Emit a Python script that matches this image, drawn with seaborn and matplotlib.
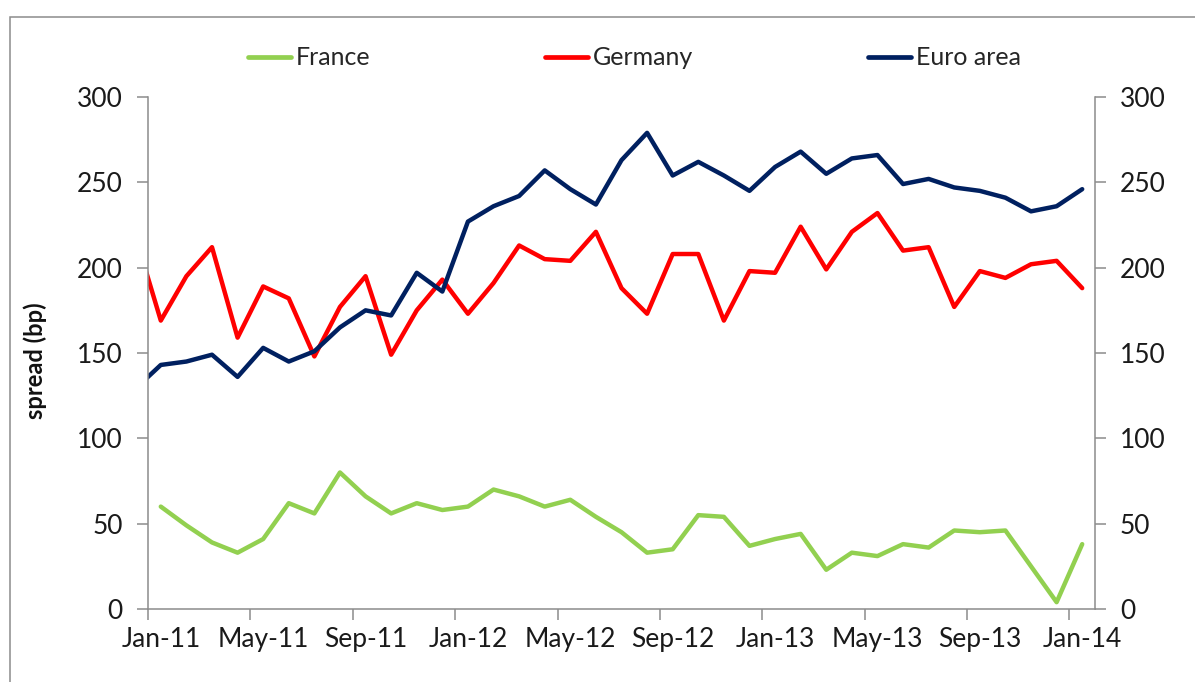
import matplotlib.pyplot as plt
import matplotlib.patches as mpatches
from matplotlib.ticker import FixedLocator
import seaborn as sns
import pandas as pd
import numpy as np

# monthly spreads (bp), Dec-10 .. Jan-14; France series starts Jan-11
months = ['Dec-10',
          'Jan-11', 'Feb-11', 'Mar-11', 'Apr-11', 'May-11', 'Jun-11',
          'Jul-11', 'Aug-11', 'Sep-11', 'Oct-11', 'Nov-11', 'Dec-11',
          'Jan-12', 'Feb-12', 'Mar-12', 'Apr-12', 'May-12', 'Jun-12',
          'Jul-12', 'Aug-12', 'Sep-12', 'Oct-12', 'Nov-12', 'Dec-12',
          'Jan-13', 'Feb-13', 'Mar-13', 'Apr-13', 'May-13', 'Jun-13',
          'Jul-13', 'Aug-13', 'Sep-13', 'Oct-13', 'Nov-13', 'Dec-13',
          'Jan-14']
france = [60, 49, 39, 33, 41, 62, 56, 80, 66, 56, 62, 58,
          60, 70, 66, 60, 64, 54, 45, 33, 35, 55, 54, 37,
          41, 44, 23, 33, 31, 38, 36, 46, 45, 46, 25, 4,
          38]
germany = [219,
           169, 195, 212, 159, 189, 182, 148, 177, 195, 149, 175, 193,
           173, 191, 213, 205, 204, 221, 188, 173, 208, 208, 169, 198,
           197, 224, 199, 221, 232, 210, 212, 177, 198, 194, 202, 204,
           188]
euro_area = [129,
             143, 145, 149, 136, 153, 145, 151, 165, 175, 172, 197, 186,
             227, 236, 242, 257, 246, 237, 263, 279, 254, 262, 254, 245,
             259, 268, 255, 264, 266, 249, 252, 247, 245, 241, 233, 236,
             246]
series_names = ['France', 'Germany', 'Euro area']
colors = ['#92D050', '#FF0000', '#002060']

sns.set_style('white')
plt.rcParams['font.family'] = ['Lato', 'DejaVu Sans']

frames = []
for name, vals in zip(series_names, [france, germany, euro_area]):
    offset = len(months) - len(vals)
    x = np.arange(len(vals)) + offset - 1  # Jan-11 -> 0
    frames.append(pd.DataFrame({'x': x, 'spread': vals, 'series': name}))
df = pd.concat(frames, ignore_index=True)

fig = plt.figure(figsize=(11.95, 6.82), dpi=100)
ax = fig.add_axes([148 / 1195, 73 / 682, 947 / 1195, 512 / 682])

sns.lineplot(data=df, x='x', y='spread', hue='series',
             hue_order=series_names, palette=dict(zip(series_names, colors)),
             estimator=None, sort=False, linewidth=3.2, ax=ax)

grey = '#8c8c8c'
n = len(months) - 1
ax.set_xlim(-0.5, n - 0.5)
ax.set_ylim(0, 300)
ax.set_yticks(range(0, 301, 50))
ax.xaxis.set_major_locator(FixedLocator(range(0, n, 4)))
ax.set_xticklabels(months[1::4])
ax.xaxis.set_minor_locator(FixedLocator(np.arange(-0.5, n - 1, 4)))
ax.tick_params(axis='x', which='major', length=0, pad=13, labelsize=19,
               colors='#1a1a1a')
ax.tick_params(axis='x', which='minor', length=8, width=1.1, color=grey,
               direction='out', bottom=True)
ax.tick_params(axis='y', length=8, width=1.1, color=grey, direction='out',
               left=True, pad=10, labelsize=19, labelcolor='#1a1a1a')
ax.set_xlabel('')
ax.set_ylabel('spread (bp)', fontsize=17, fontweight='bold',
              color='#111111')
ax.yaxis.set_label_coords(-0.107, 0.485)
ax.legend_.remove()

for side in ['left', 'bottom']:
    ax.spines[side].set_color(grey)
    ax.spines[side].set_linewidth(1.1)
ax.spines['top'].set_visible(False)
ax.spines['right'].set_visible(False)

ax2 = ax.twinx()
ax2.set_ylim(0, 300)
ax2.set_yticks(range(0, 301, 50))
ax2.tick_params(axis='y', length=8, width=1.1, color=grey, direction='out',
                right=True, pad=10, labelsize=19, labelcolor='#1a1a1a')
for side in ['left', 'bottom', 'top']:
    ax2.spines[side].set_visible(False)
ax2.spines['right'].set_color(grey)
ax2.spines['right'].set_linewidth(1.1)
ax2.grid(False)

handles = [plt.Line2D([], [], color=c, linewidth=3.4) for c in colors]
fig.legend(handles, series_names, loc='center', bbox_to_anchor=(0.531, 0.915),
           ncol=3, frameon=False, fontsize=18, handlelength=1.7,
           handletextpad=0.2, columnspacing=7.0)

# outer chart frame (right and bottom edges fall outside the image)
fig.patches.append(mpatches.Rectangle((10 / 1195, -0.2), 1.2, 1.2 - 16.5 / 682,
                                      transform=fig.transFigure, fill=False,
                                      edgecolor=grey, linewidth=1.1))

plt.savefig('out.png', dpi=100)
